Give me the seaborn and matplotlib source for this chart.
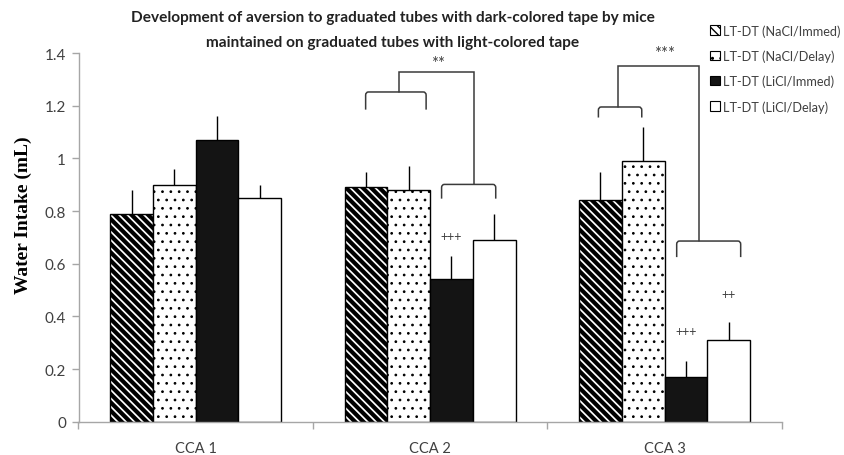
import numpy as np
import pandas as pd
import matplotlib
matplotlib.use("Agg")
import matplotlib.pyplot as plt
from matplotlib.path import Path
from matplotlib.patches import PathPatch, Patch
from matplotlib.container import BarContainer
import seaborn as sns

# ---------------- data ----------------
sessions = ["CCA 1", "CCA 2", "CCA 3"]
groups = ["LT-DT (NaCl/Immed)", "LT-DT (NaCl/Delay)",
          "LT-DT (LiCl/Immed)", "LT-DT (LiCl/Delay)"]
nacl_immed = [0.79, 0.89, 0.84]
nacl_delay = [0.90, 0.88, 0.99]
licl_immed = [1.07, 0.54, 0.17]
licl_delay = [0.85, 0.69, 0.31]
nacl_immed_err = [0.09, 0.06, 0.11]
nacl_delay_err = [0.06, 0.09, 0.13]
licl_immed_err = [0.09, 0.09, 0.06]
licl_delay_err = [0.05, 0.10, 0.07]
ytick_values = [0, 0.2, 0.4, 0.6, 0.8, 1.0, 1.2, 1.4]
ytick_labels = ["0", "0.2", "0.4", "0.6", "0.8", "1", "1.2", "1.4"]
title_lines = ["Development of aversion to graduated tubes with dark-colored tape by mice",
               "maintained on graduated tubes with light-colored tape"]
ylabel = "Water Intake (mL)"

values = [nacl_immed, nacl_delay, licl_immed, licl_delay]
errors = [nacl_immed_err, nacl_delay_err, licl_immed_err, licl_delay_err]
df = pd.DataFrame([
    {"session": s, "group": g, "intake": values[gi][si]}
    for gi, g in enumerate(groups) for si, s in enumerate(sessions)
])

# ---------------- style ----------------
sns.set_theme(style="white")
plt.rcParams["font.family"] = ["Lato", "DejaVu Sans"]
plt.rcParams["hatch.linewidth"] = 1.0

fills = ["white", "white", "#141414", "white"]
hatches = ["\\\\\\\\", "..", "", ""]
hatch_lws = [3.0, 0.75, 1.0, 1.0]
axis_gray = "#A6A6A6"
text_dark = "#404040"

fig = plt.figure(figsize=(8.44, 4.56), dpi=100)
ax = fig.add_axes([78.5 / 844, 1 - 422.7 / 456, (781.7 - 78.5) / 844, (422.7 - 54) / 456])

sns.barplot(data=df, x="session", y="intake", hue="group", order=sessions,
            hue_order=groups, palette=fills, width=0.73, gap=0,
            errorbar=None, edgecolor="black", linewidth=1.0,
            saturation=1, legend=False, ax=ax)

bar_containers = [c for c in ax.containers if isinstance(c, BarContainer)]
for gi, cont in enumerate(bar_containers):
    xs, tops = [], []
    for bar in cont.patches:
        bar.set_hatch(hatches[gi])
        if hasattr(bar, "set_hatch_linewidth"):
            bar.set_hatch_linewidth(hatch_lws[gi])
        xs.append(bar.get_x() + bar.get_width() / 2)
        tops.append(bar.get_height())
    errs = errors[gi]
    ax.errorbar(xs, tops, yerr=[np.zeros(len(errs)), errs], fmt="none",
                ecolor="black", elinewidth=1.0, capsize=0, zorder=1)

ax.set_xlim(-0.5, 2.5)
ax.set_ylim(0, 1.4)
ax.set_yticks(ytick_values)
ax.set_yticklabels(ytick_labels)
ax.set_xlabel("")
ax.set_ylabel(ylabel, family="Liberation Serif", fontweight="bold",
              fontsize=14, color="black", va="center")
ax.yaxis.set_label_coords(-0.079, 0.563)

for side in ["top", "right"]:
    ax.spines[side].set_visible(False)
for side in ["left", "bottom"]:
    ax.spines[side].set_color(axis_gray)
    ax.spines[side].set_linewidth(1.0)

ax.tick_params(axis="y", which="major", length=5, width=1.0, color=axis_gray,
               labelsize=11, labelcolor=text_dark, pad=4, left=True)
ax.tick_params(axis="x", which="major", length=0, labelsize=10.5,
               labelcolor=text_dark, pad=14)
ax.set_xticks([-0.5, 0.5, 1.5, 2.5], minor=True)
ax.tick_params(axis="x", which="minor", length=5, width=1.0, color=axis_gray,
               bottom=True)

# ---------------- significance brackets ----------------
line_col = "#3A3A3A"
lw = 1.1


def bracket(x1, x2, y, y_leg, r=0.012, ry=0.012):
    verts = [(x1, y_leg), (x1, y - ry), (x1, y), (x1 + r, y),
             (x2 - r, y), (x2, y), (x2, y - ry), (x2, y_leg)]
    codes = [Path.MOVETO, Path.LINETO, Path.CURVE3, Path.CURVE3,
             Path.LINETO, Path.CURVE3, Path.CURVE3, Path.LINETO]
    ax.add_patch(PathPatch(Path(verts, codes), fill=False, edgecolor=line_col,
                           lw=lw, clip_on=False, capstyle="butt"))


def connector(xa, ya, xb, yb, ytop):
    ax.plot([xa, xa, xb, xb], [ya, ytop, ytop, yb], color=line_col, lw=lw,
            clip_on=False, solid_joinstyle="miter")


# CCA 2
bracket(0.725, 0.983, 1.252, 1.185)
bracket(1.049, 1.280, 0.901, 0.847)
connector(0.869, 1.252, 1.187, 0.901, 1.326)
# CCA 3
bracket(1.718, 1.903, 1.195, 1.155)
bracket(2.052, 2.325, 0.686, 0.625)
connector(1.803, 1.195, 2.148, 0.686, 1.352)

ann_kw = dict(ha="center", va="center", color=text_dark, clip_on=False)
ax.text(1.034, 1.362, "**", fontsize=12, **ann_kw)
ax.text(2.002, 1.400, "***", fontsize=12, **ann_kw)
ax.text(1.088, 0.707, "+++", fontsize=9, **ann_kw)
ax.text(2.090, 0.346, "+++", fontsize=9, **ann_kw)
ax.text(2.272, 0.483, "++", fontsize=9, **ann_kw)

# ---------------- title ----------------
fig.text(393 / 844, 1 - 18 / 456, title_lines[0], ha="center", va="center",
         fontsize=11.1, fontweight="bold", color="#222222")
fig.text(393 / 844, 1 - 43 / 456, title_lines[1], ha="center", va="center",
         fontsize=11.1, fontweight="bold", color="#222222")

# ---------------- legend ----------------
handles = []
for gi, g in enumerate(groups):
    handles.append(Patch(facecolor=fills[gi], edgecolor="black", hatch=hatches[gi],
                         linewidth=0.8, label=g))
leg = fig.legend(handles=handles, loc="upper left",
                 bbox_to_anchor=(710 / 844, 1 - 25 / 456), frameon=False,
                 fontsize=9.2, handlelength=0.75, handleheight=0.75,
                 handletextpad=0.25, labelspacing=1.0, borderpad=0,
                 borderaxespad=0)
for t in leg.get_texts():
    t.set_color(text_dark)

fig.savefig("out.png", dpi=100)
